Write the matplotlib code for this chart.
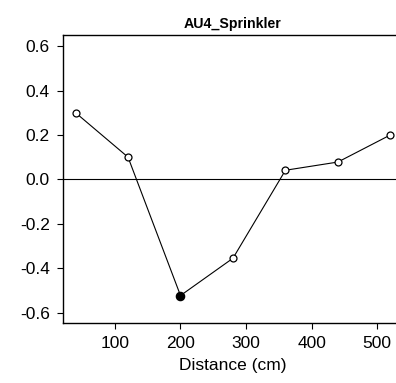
import matplotlib
matplotlib.use('Agg')
import matplotlib.pyplot as plt

# distance along the transect and the measured values
distance = [40, 120, 200, 280, 360, 440, 520]
values = [0.30, 0.10, -0.523, -0.355, 0.041, 0.078, 0.20]
filled = [False, False, True, False, False, False, False]
xticks = [100, 200, 300, 400, 500]
yticks = [-0.6, -0.4, -0.2, 0.0, 0.2, 0.4, 0.6]

plt.rcParams['font.family'] = ['Liberation Sans', 'DejaVu Sans']

fig = plt.figure(figsize=(3.96, 3.83), dpi=100)
# right edge of the box runs off the picture, like the original
ax = fig.add_axes([0.159, 0.1567, 0.8586, 0.752])

ax.axhline(0, color='black', lw=0.8, zorder=1)
ax.plot(distance, values, color='black', lw=0.8, zorder=2)
for x, y, f in zip(distance, values, filled):
    ax.plot(x, y, 'o', ms=6 if f else 5, mfc='black' if f else 'white',
            mec='black', mew=0.9, zorder=3)

ax.set_xlim(20.8, 539.2)
ax.set_ylim(-0.6465, 0.65)
ax.set_xticks(xticks)
ax.set_yticks(yticks)
ax.set_yticklabels([f'{t:.1f}' for t in yticks])
ax.tick_params(direction='out', length=4.5, width=0.8, labelsize=12.5, pad=5)
for s in ax.spines.values():
    s.set_linewidth(1.0)

ax.set_xlabel('Distance (cm)', fontsize=12.5, labelpad=5)
ax.set_title('AU4_Sprinkler', fontsize=10.2, fontweight='bold', pad=5)

fig.savefig('out.png', dpi=100)
